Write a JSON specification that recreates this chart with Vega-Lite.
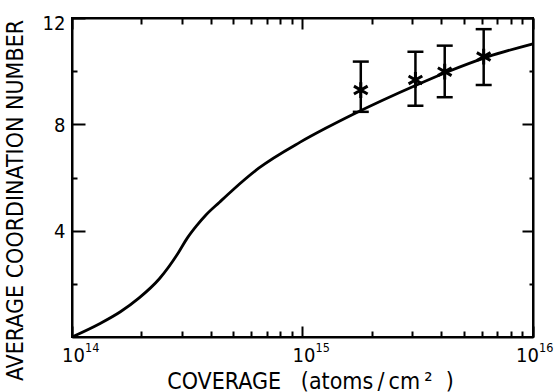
{
  "$schema": "https://vega.github.io/schema/vega-lite/v6.json",
  "width": 461,
  "height": 319,
  "autosize": {"type": "none"},
  "padding": {"left": 72, "top": 18, "right": 22, "bottom": 55},
  "background": "white",
  "config": {
    "view": {"stroke": "black", "strokeWidth": 2},
    "font": "DejaVu Sans Condensed",
    "axis": {
      "grid": false,
      "domainColor": "black",
      "domainWidth": 2,
      "ticks": true,
      "tickColor": "black",
      "tickWidth": 2,
      "tickOpacity": 1,
      "labelColor": "black",
      "titleColor": "black",
      "labelFont": "DejaVu Sans Condensed",
      "titleFont": "DejaVu Sans Condensed",
      "labelFontSize": 20,
      "titleFontSize": 23,
      "titleFontWeight": "normal",
      "labelOverlap": false,
      "labelFlush": false
    }
  },
  "datasets": {
    "curve": [
      {"coverage": 100000000000000, "cn": 0.0},
      {"coverage": 131800000000000, "cn": 0.5},
      {"coverage": 162200000000000, "cn": 0.95},
      {"coverage": 195000000000000, "cn": 1.46},
      {"coverage": 239900000000000, "cn": 2.2},
      {"coverage": 288400000000000, "cn": 3.15},
      {"coverage": 316200000000000, "cn": 3.72},
      {"coverage": 346700000000000, "cn": 4.18},
      {"coverage": 380200000000000, "cn": 4.58},
      {"coverage": 436500000000000, "cn": 5.07},
      {"coverage": 501200000000000, "cn": 5.55},
      {"coverage": 645700000000000, "cn": 6.35},
      {"coverage": 977200000000000, "cn": 7.33},
      {"coverage": 1259000000000000, "cn": 7.85},
      {"coverage": 1660000000000000, "cn": 8.38},
      {"coverage": 3162000000000000, "cn": 9.5},
      {"coverage": 4266000000000000, "cn": 9.98},
      {"coverage": 6310000000000000, "cn": 10.53},
      {"coverage": 10000000000000000, "cn": 11.03}
    ],
    "points": [
      {"coverage": 1790000000000000, "cn": 9.29, "lo": 8.47, "hi": 10.36},
      {"coverage": 3090000000000000, "cn": 9.67, "lo": 8.70, "hi": 10.73},
      {"coverage": 4140000000000000, "cn": 9.98, "lo": 9.02, "hi": 10.96},
      {"coverage": 6110000000000000, "cn": 10.55, "lo": 9.48, "hi": 11.58}
    ],
    "exponents": [
      {"coverage": 100000000000000, "base": 0, "exp": "14"},
      {"coverage": 1000000000000000, "base": 0, "exp": "15"},
      {"coverage": 10000000000000000, "base": 0, "exp": "16"}
    ]
  },
  "layer": [
    {
      "data": {"name": "curve"},
      "mark": {"type": "line", "color": "black", "strokeWidth": 2.8, "interpolate": "monotone"},
      "encoding": {
        "x": {
          "field": "coverage", "type": "quantitative",
          "scale": {"type": "log", "domain": [100000000000000, 10000000000000000], "nice": false},
          "axis": {
            "orient": "bottom",
            "values": [100000000000000, 1000000000000000, 10000000000000000],
            "tickSize": -11,
            "labelExpr": "'10'",
            "labelBaseline": "alphabetic",
            "labelPadding": 35,
            "labelOffset": {"condition": {"test": "datum.value == 1e16", "value": -6}, "value": 1},
            "title": "COVERAGE\u00a0\u00a0\u00a0(atoms\u2009/\u2009cm\u2009²\u00a0\u00a0)",
            "titleFontSize": 23,
            "titleX": 238,
            "titleY": 51,
            "titleBaseline": "alphabetic",
            "titleAlign": "center"
          }
        },
        "y": {
          "field": "cn", "type": "quantitative",
          "scale": {"domain": [0, 12], "nice": false},
          "axis": {
            "orient": "left",
            "values": [4, 8, 12],
            "tickSize": -13,
            "labelPadding": 20,
            "labelOffset": {"condition": {"test": "datum.value == 12", "value": 5}, "value": 1},
            "title": "AVERAGE COORDINATION NUMBER",
            "titleX": -50,
            "titleY": 182,
            "titleAngle": -90,
            "titleBaseline": "alphabetic",
            "titleAlign": "center"
          }
        }
      }
    },
    {
      "data": {"name": "points"},
      "mark": {"type": "rule", "color": "black", "strokeWidth": 2.5},
      "encoding": {
        "x": {
          "field": "coverage", "type": "quantitative",
          "axis": {
            "orient": "top",
            "values": [100000000000000, 1000000000000000, 10000000000000000],
            "tickSize": -11,
            "labels": false,
            "title": null
          }
        },
        "y": {
          "field": "lo", "type": "quantitative",
          "axis": {
            "orient": "right",
            "values": [4, 8, 12],
            "tickSize": -11,
            "labels": false,
            "title": null
          }
        },
        "y2": {"field": "hi"}
      }
    },
    {
      "data": {"name": "points"},
      "mark": {"type": "tick", "color": "black", "orient": "horizontal", "size": 16, "thickness": 2.5, "opacity": 1},
      "encoding": {
        "x": {
          "field": "coverage", "type": "quantitative",
          "axis": {
            "orient": "bottom",
            "values": [200000000000000, 300000000000000, 400000000000000, 500000000000000, 600000000000000, 700000000000000, 800000000000000, 900000000000000, 2000000000000000, 3000000000000000, 4000000000000000, 5000000000000000, 6000000000000000, 7000000000000000, 8000000000000000, 9000000000000000],
            "tickSize": -6,
            "labels": false,
            "domain": false,
            "title": null
          }
        },
        "y": {
          "field": "hi", "type": "quantitative",
          "axis": {
            "orient": "left",
            "values": [2, 6, 10],
            "tickSize": -5,
            "labels": false,
            "domain": false,
            "title": null
          }
        }
      }
    },
    {
      "data": {"name": "points"},
      "mark": {"type": "tick", "color": "black", "orient": "horizontal", "size": 16, "thickness": 2.5, "opacity": 1},
      "encoding": {
        "x": {
          "field": "coverage", "type": "quantitative",
          "axis": {
            "orient": "top",
            "values": [200000000000000, 300000000000000, 400000000000000, 500000000000000, 600000000000000, 700000000000000, 800000000000000, 900000000000000, 2000000000000000, 3000000000000000, 4000000000000000, 5000000000000000, 6000000000000000, 7000000000000000, 8000000000000000, 9000000000000000],
            "tickSize": -6,
            "labels": false,
            "domain": false,
            "title": null
          }
        },
        "y": {
          "field": "lo", "type": "quantitative",
          "axis": {
            "orient": "right",
            "values": [2, 6, 10],
            "tickSize": -4,
            "labels": false,
            "domain": false,
            "title": null
          }
        }
      }
    },
    {
      "data": {"name": "points"},
      "mark": {"type": "point", "shape": "M0,-1L0,1M-0.866,-0.5L0.866,0.5M-0.866,0.5L0.866,-0.5", "filled": false, "color": "black", "strokeWidth": 3, "size": 250, "opacity": 1},
      "encoding": {
        "x": {"field": "coverage", "type": "quantitative", "axis": null},
        "y": {"field": "cn", "type": "quantitative", "axis": null}
      }
    },
    {
      "data": {"name": "exponents"},
      "transform": [{"filter": "datum.exp != '16'"}],
      "mark": {"type": "text", "color": "black", "font": "DejaVu Sans Condensed", "fontSize": 12.5, "align": "left", "baseline": "alphabetic", "dx": 13, "dy": 15},
      "encoding": {
        "x": {"field": "coverage", "type": "quantitative", "axis": null},
        "y": {"field": "base", "type": "quantitative", "axis": null},
        "text": {"field": "exp"}
      }
    },
    {
      "data": {"name": "exponents"},
      "transform": [{"filter": "datum.exp == '16'"}],
      "mark": {"type": "text", "color": "black", "font": "DejaVu Sans Condensed", "fontSize": 12.5, "align": "left", "baseline": "alphabetic", "dx": 6, "dy": 15},
      "encoding": {
        "x": {"field": "coverage", "type": "quantitative", "axis": null},
        "y": {"field": "base", "type": "quantitative", "axis": null},
        "text": {"field": "exp"}
      }
    }
  ],
  "resolve": {"axis": {"x": "independent", "y": "independent"}}
}
